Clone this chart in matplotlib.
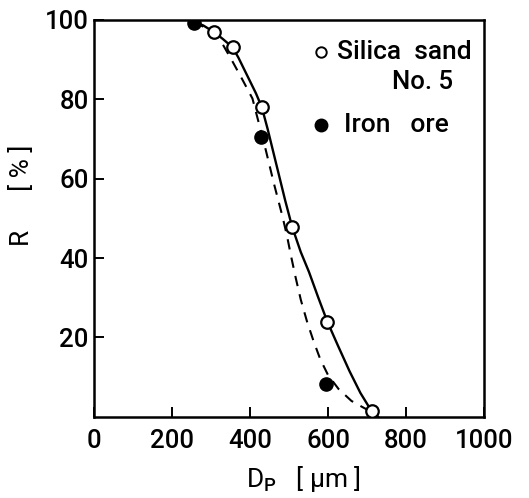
import matplotlib
matplotlib.use("Agg")
import matplotlib.pyplot as plt

# measured points
silica_d = [308, 355, 430, 508, 598, 712]
silica_r = [96.9, 93.1, 78, 47.8, 24, 1.5]
iron_d = [256, 427, 594]
iron_r = [99.2, 70.4, 8.2]

# fitted curves
solid_d = [256, 280, 308, 330, 355, 370, 385, 400, 415, 430, 445, 460, 475,
           490, 508, 530, 551, 575, 598, 625, 655, 683, 708, 728]
solid_r = [99.5, 98.6, 96.9, 95.2, 93.1, 90.5, 87.5, 84.5, 81.5, 78, 72.5,
           66.5, 60.5, 54.5, 47.8, 41.5, 36.5, 30, 24, 18, 11.5, 6, 2, 0]
dash_d = [256, 280, 308, 330, 355, 380, 406, 425, 440, 461, 483, 495, 505,
          517, 530, 546, 563, 580, 600, 627, 660, 691, 712]
dash_r = [99.4, 98.3, 96.5, 93.8, 89.5, 85, 80.2, 73, 67.3, 58.8, 50.5, 45.4,
          40.5, 35, 29.5, 24, 19, 14.5, 10.5, 7, 4, 2.3, 1.2]

plt.rcParams['font.family'] = ['Roboto', 'DejaVu Sans']
plt.rcParams['font.weight'] = 'medium'
plt.rcParams['mathtext.fontset'] = 'custom'
plt.rcParams['mathtext.rm'] = 'Roboto:medium'

fig = plt.figure(figsize=(5.29, 4.98), dpi=100)
ax = fig.add_axes([0.178, 0.163, 0.737, 0.797])

ax.plot(solid_d, solid_r, color='black', lw=1.7, zorder=2)
ax.plot(dash_d, dash_r, color='black', lw=1.5, ls=(0, (5, 4)), zorder=2)
ax.plot(silica_d, silica_r, 'o', ms=9, mfc='white', mec='black', mew=1.6, zorder=3)
ax.plot(iron_d, iron_r, 'o', ms=9.5, mfc='black', mec='black', zorder=3)

ax.set_xlim(0, 1000)
ax.set_ylim(0, 100)
ax.set_xticks([0, 200, 400, 600, 800, 1000])
ax.set_yticks([20, 40, 60, 80, 100])
ax.tick_params(direction='in', length=7, width=1.4, labelsize=18.5)
ax.tick_params(axis='x', pad=9)
ax.tick_params(axis='y', pad=4)
for s in ax.spines.values():
    s.set_linewidth(1.8)

ax.set_xlabel("D$_{\\rm P}$   [ \u03bcm ]", fontsize=19)
ax.xaxis.set_label_coords(0.536, -0.118)
ax.set_ylabel("R      [ % ]", fontsize=19)
ax.yaxis.set_label_coords(-0.155, 0.557)

# legend drawn as text inside the frame
ax.plot([0.582], [0.919], 'o', ms=7.5, mfc='white', mec='black', mew=1.4,
        transform=ax.transAxes, clip_on=False)
ax.text(0.623, 0.919, "Silica  sand", fontsize=19, va='center', transform=ax.transAxes)
ax.text(0.841, 0.844, "No. 5", fontsize=18.5, va='center', ha='center', transform=ax.transAxes)
ax.plot([0.582], [0.735], 'o', ms=9, mfc='black', mec='black',
        transform=ax.transAxes, clip_on=False)
ax.text(0.64, 0.735, "Iron   ore", fontsize=19, va='center', transform=ax.transAxes)

fig.savefig("out.png", dpi=100)
